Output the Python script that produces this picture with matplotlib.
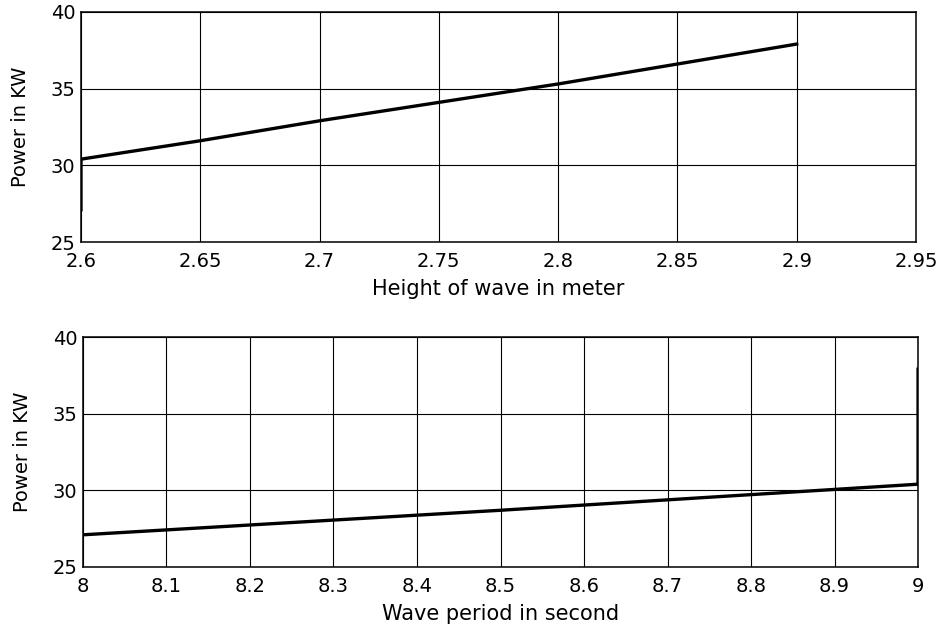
import matplotlib
matplotlib.use("Agg")
import matplotlib.pyplot as plt

plt.rcParams['font.family'] = ['DejaVu Sans']

# wave height sweep (top panel)
height = [2.6, 2.6, 2.65, 2.7, 2.75, 2.8, 2.85, 2.9]
power_h = [27.1, 30.4, 31.6, 32.9, 34.1, 35.3, 36.6, 37.9]
height_ticks = [2.6, 2.65, 2.7, 2.75, 2.8, 2.85, 2.9, 2.95]

# wave period sweep (bottom panel)
period = [8.0, 8.5, 9.0, 9.0]
power_t = [27.1, 28.7, 30.4, 37.9]
period_ticks = [8, 8.1, 8.2, 8.3, 8.4, 8.5, 8.6, 8.7, 8.8, 8.9, 9]

power_ticks = [25, 30, 35, 40]

fig = plt.figure(figsize=(9.44, 6.27), dpi=100)
ax1 = fig.add_axes([0.0858, 0.614, 0.8845, 0.3671])
ax2 = fig.add_axes([0.0879, 0.0957, 0.8846, 0.3668])

def style(ax, xticks, xlabel):
    ax.set_xticks(xticks)
    ax.set_xticklabels([f"{t:g}" for t in xticks])
    ax.set_yticks(power_ticks)
    ax.set_ylim(25, 40)
    ax.set_xlim(xticks[0], xticks[-1])
    ax.grid(True, color='black', linewidth=0.8)
    ax.set_axisbelow(True)
    ax.tick_params(length=0, labelsize=14)
    ax.tick_params(axis='x', pad=7)
    ax.tick_params(axis='y', pad=4)
    for s in ax.spines.values():
        s.set_linewidth(1.1)
    ax.set_xlabel(xlabel, fontsize=15, labelpad=6)
    ax.set_ylabel("Power in KW", fontsize=14, labelpad=15)

ax1.plot(height, power_h, color='black', linewidth=2.4)
style(ax1, height_ticks, "Height of wave in meter")

ax2.plot(period, power_t, color='black', linewidth=2.4)
style(ax2, period_ticks, "Wave period in second")

fig.savefig("out.png", dpi=100)
